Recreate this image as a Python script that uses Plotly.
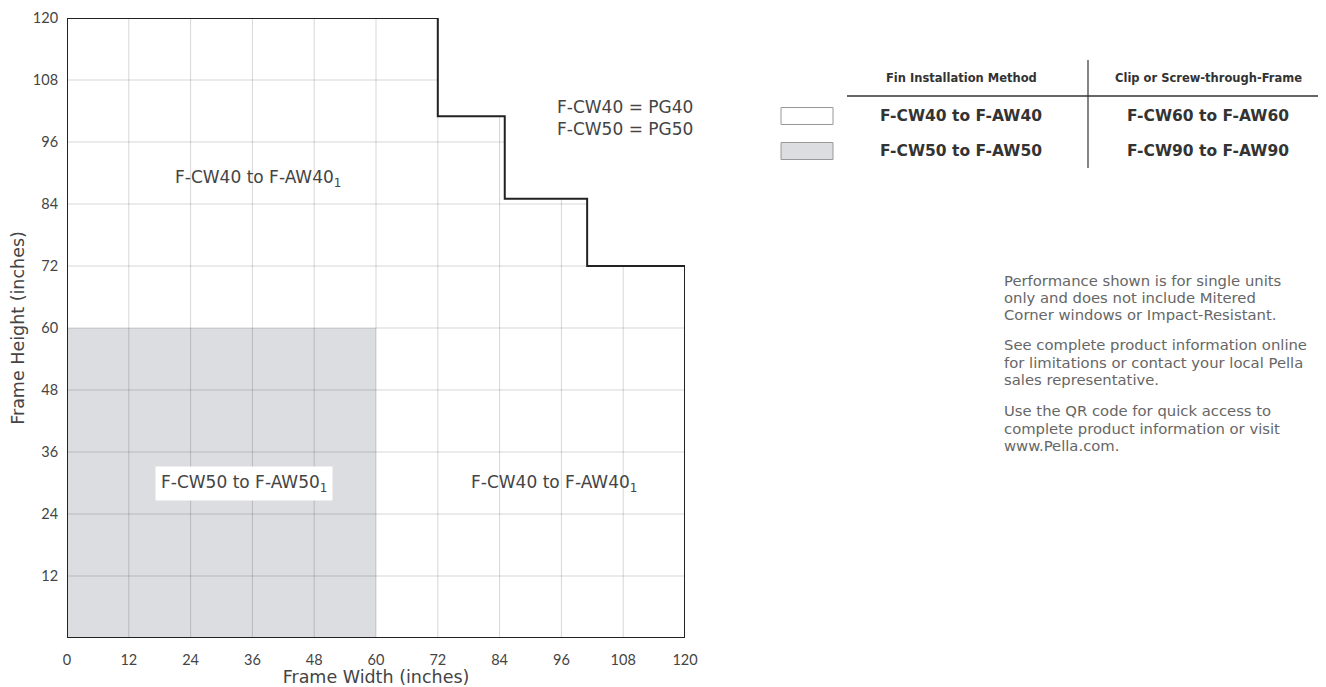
import plotly.graph_objects as go

# size envelope: up to each width, the max allowed height
env_width = [72, 85, 101, 120]
env_height = [120, 101, 85, 72]
# shaded zone (F-CW50 to F-AW50)
shade_width = 60
shade_height = 60

x_ticks = [0, 12, 24, 36, 48, 60, 72, 84, 96, 108, 120]
y_ticks = [12, 24, 36, 48, 60, 72, 84, 96, 108, 120]
grid_vals = [12, 24, 36, 48, 60, 72, 84, 96, 108]

zone_labels = ["F-CW40 to F-AW40<sub>1</sub>", "F-CW50 to F-AW50<sub>1</sub>", "F-CW40 to F-AW40<sub>1</sub>"]
zone_x = [37, 34.3, 94.5]
zone_y = [89, 30, 30]

table_header = ["Fin Installation Method", "Clip or Screw-through-Frame"]
table_rows = [["F-CW40 to F-AW40", "F-CW60 to F-AW60"],
              ["F-CW50 to F-AW50", "F-CW90 to F-AW90"]]
swatch_colors = ["white", "#dcdde0"]

notes = [
    ["Performance shown is for single units", "only and does not include Mitered",
     "Corner windows or Impact-Resistant."],
    ["See complete product information online", "for limitations or contact your local Pella",
     "sales representative."],
    ["Use the QR code for quick access to", "complete product information or visit",
     "www.Pella.com."],
]

FONT = "DejaVu Sans"
TICKFONT = "Lato"
TXT = "#444444"

# target plot area in page pixels; the page body adds an 8px offset
OFF = 8
L, R, T, B = 67, 685, 18, 638
W, H = 1326, 687


def px(x):
    return (x - L) / (R - L)


def py(y):
    return (B - y) / (B - T)


def max_height(x):
    for w, h in zip(env_width, env_height):
        if x <= w:
            return h
    return 0


def max_width(y):
    out = 0
    for w, h in zip(env_width, env_height):
        if h >= y:
            out = w
    return out


# outline path
ox, oy = [0], [env_height[0]]
for i, (w, h) in enumerate(zip(env_width, env_height)):
    ox.append(w)
    oy.append(h)
    nxt = env_height[i + 1] if i + 1 < len(env_height) else 0
    ox.append(w)
    oy.append(nxt)
ox += [0, 0]
oy += [0, env_height[0]]

# grid lines clipped to envelope
gx, gy = [], []
for g in grid_vals:
    gx += [g, g, None]
    gy += [0, max_height(g), None]
    gx += [0, max_width(g), None]
    gy += [g, g, None]

fig = go.Figure()

fig.add_trace(go.Scatter(
    x=[0, shade_width, shade_width, 0, 0], y=[0, 0, shade_height, shade_height, 0],
    fill="toself", fillcolor="#dcdde0", line=dict(width=0), mode="lines",
    hoverinfo="skip"))

fig.add_trace(go.Scatter(
    x=gx, y=gy, mode="lines", line=dict(color="rgba(0,0,0,0.16)", width=1),
    hoverinfo="skip"))

fig.add_trace(go.Scatter(
    x=ox, y=oy, mode="lines", line=dict(color="#222222", width=2),
    hoverinfo="skip"))

annotations = []
for t, x, y in zip(zone_labels, zone_x, zone_y):
    annotations.append(dict(
        x=x, y=y, xref="x", yref="y", text=t, showarrow=False,
        xanchor="center", yanchor="middle",
        font=dict(family=FONT, size=17, color=TXT),
        bgcolor="white" if x < shade_width and y < shade_height else "rgba(0,0,0,0)",
        borderpad=5))

for i, t in enumerate(["F-CW40 = PG40", "F-CW50 = PG50"]):
    annotations.append(dict(
        x=px(555), y=py(107 + 22 * i), xref="paper", yref="paper",
        xanchor="left", yanchor="middle",
        text=t, showarrow=False, font=dict(family=FONT, size=17, color=TXT)))

# legend table
col_x = [961, 1208]
for c, h in enumerate(table_header):
    annotations.append(dict(
        x=px(col_x[c]), y=py(78), xref="paper", yref="paper", text="<b>%s</b>" % h,
        xanchor="center", yanchor="middle",
        showarrow=False, font=dict(family=FONT, size=11.5, color="#333333")))
row_y = [116, 151]
for r, row in enumerate(table_rows):
    for c, t in enumerate(row):
        annotations.append(dict(
            x=px(col_x[c]), y=py(row_y[r]), xref="paper", yref="paper",
            xanchor="center", yanchor="middle",
            text="<b>%s</b>" % t, showarrow=False,
            font=dict(family=FONT, size=15.5, color="#333333")))

note_y = [280, 345, 411]
for block, y0 in zip(notes, note_y):
    for j, t in enumerate(block):
        annotations.append(dict(
            x=px(1002), y=py(y0 + 17 * j), xref="paper", yref="paper",
            xanchor="left", yanchor="middle",
            text=t, showarrow=False,
            font=dict(family=FONT, size=14.8, color="#666666")))

shapes = [
    dict(type="line", xref="paper", yref="paper", x0=px(847), x1=px(1326),
         y0=py(96), y1=py(96), line=dict(color="#333333", width=1.5)),
    dict(type="line", xref="paper", yref="paper", x0=px(1088), x1=px(1088),
         y0=py(60), y1=py(168), line=dict(color="#333333", width=1.2)),
]
for r, col in enumerate(swatch_colors):
    shapes.append(dict(
        type="rect", xref="paper", yref="paper", x0=px(781), x1=px(833),
        y0=py(row_y[r] - 8.5), y1=py(row_y[r] + 8.5), fillcolor=col,
        line=dict(color="#999999", width=1)))

fig.update_layout(
    width=W - OFF, height=H - OFF,
    margin=dict(l=L - OFF, r=W - R, t=T - OFF, b=H - B, pad=0),
    plot_bgcolor="white", paper_bgcolor="white",
    showlegend=False,
    annotations=annotations, shapes=shapes,
    font=dict(family=FONT, color=TXT),
    xaxis=dict(range=[0, 120], tickvals=x_ticks, showgrid=False, zeroline=False,
               showline=False, ticks="outside", ticklen=9, tickcolor="rgba(0,0,0,0)",
               automargin=False,
               tickfont=dict(family=TICKFONT, size=14.5, color=TXT),
               title=dict(text="Frame Width (inches)", font=dict(family=FONT, size=17.5, color=TXT),
                          standoff=6)),
    yaxis=dict(range=[0, 120], tickvals=y_ticks, showgrid=False, zeroline=False,
               showline=False, ticks="outside", ticklen=5, tickcolor="rgba(0,0,0,0)",
               automargin=False,
               tickfont=dict(family=TICKFONT, size=14.5, color=TXT),
               title=dict(text="Frame Height (inches)", font=dict(family=FONT, size=17.5, color=TXT),
                          standoff=10)),
)

fig.write_html("out.html")
